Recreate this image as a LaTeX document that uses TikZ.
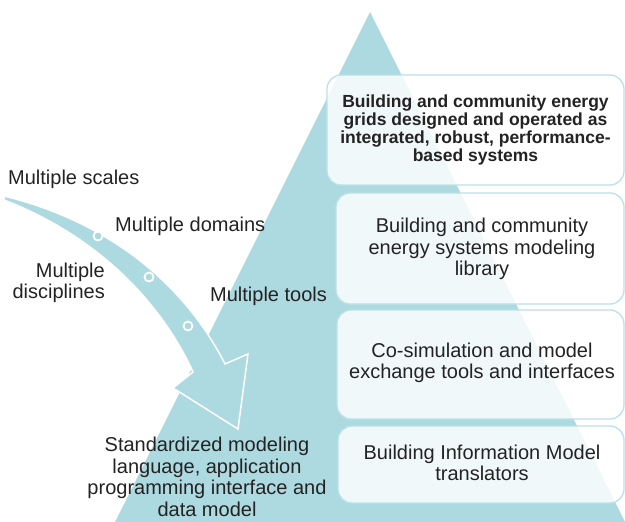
\documentclass[tikz,border=0pt]{standalone}
\usepackage{fontspec}
\setmainfont{Liberation Sans}
\definecolor{pyramid}{RGB}{173,217,224}
\definecolor{tieredge}{RGB}{188,225,231}
\definecolor{ink}{RGB}{35,35,35}

\begin{document}
\begin{tikzpicture}[
    x=1pt, y=-1pt,
    every node/.style={font=\fontsize{20}{21.5}\selectfont, text=ink, inner sep=0pt},
    tier/.style={rectangle, draw=tieredge, line width=1.3pt, rounded corners=14pt, fill=white, fill opacity=0.82, text opacity=1, align=center},
    band/.style={fill=pyramid, draw=white, line width=1.5pt, line join=miter},
    dot/.style={circle, fill=pyramid, draw=white, line width=1.8pt, minimum size=9pt}
]
\useasboundingbox (0,0) rectangle (625,522);
\clip (0,0) rectangle (625,522);

% 1. Pyramid
\fill[pyramid] (370,12) coordinate (apex) -- (634,540) -- (106,540) -- cycle;

% 2. Sweeping arrow into the base
\draw[band] (4,196) .. controls (110,222) and (185,285) .. (225,364)
    -- (248,354) -- (238,429) -- (173,388) -- (193,372)
    .. controls (160,300) and (95,235) .. (4,200) -- cycle;
\node[dot] (d1) at (98,236) {};
\node[dot] (d2) at (149,277) {};
\node[dot] (d3) at (188,326) {};

% 3. Tiers, top to bottom
\node[tier, minimum width=297pt, minimum height=110pt] (t1) at (475.5,130) {};
\node[tier, minimum width=288pt, minimum height=111pt] (t2) at (480,248.5) {};
\node[tier, minimum width=287pt, minimum height=109pt] (t3) at (480.5,364.5) {};
\node[tier, minimum width=286pt, minimum height=77pt] (t4) at (481,464.5) {};

\node[align=center, font=\fontsize{17.5}{18}\selectfont\bfseries] (t1txt) at (t1.center) {Building and community energy\\grids designed and operated as\\integrated, robust, performance-\\based systems};
\node[align=center] (t2txt) at (482,249) {Building and community\\energy systems modeling\\library};
\node[align=center] (t3txt) at (482,363) {Co-simulation and model\\exchange tools and interfaces};
\node[align=center] (t4txt) at (482,463) {Building Information Model\\translators};

% 4. Labels along the arrow
\node[anchor=west] (scales) at (8,179) {Multiple scales};
\node[anchor=west] (domains) at (115,226) {Multiple domains};
\node[anchor=east, align=right] (disciplines) at (105,283) {Multiple\\disciplines};
\node[anchor=west] (tools) at (210,296) {Multiple tools};
\node[align=center] (base) at (207,477) {Standardized modeling\\language, application\\programming interface and\\data model};

\end{tikzpicture}
\end{document}
